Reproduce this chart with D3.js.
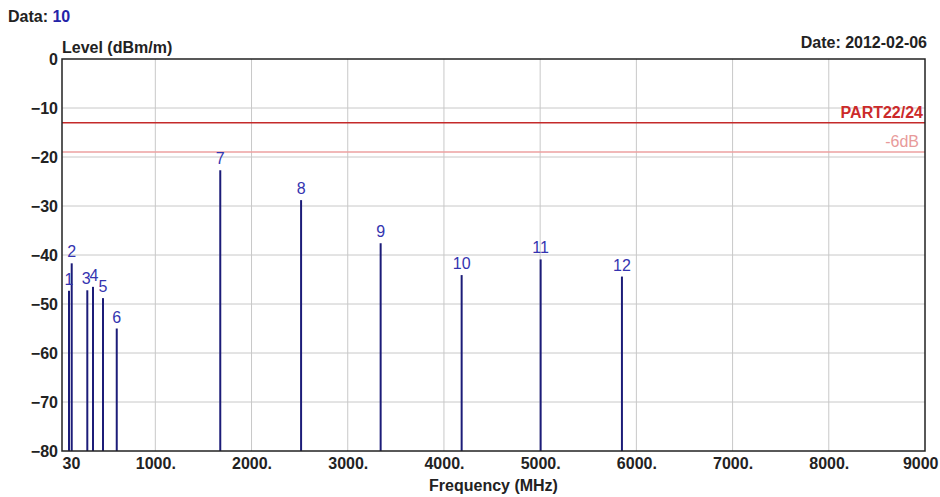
<!DOCTYPE html>
<html>
<head>
<meta charset="utf-8">
<script src="https://cdn.jsdelivr.net/npm/d3@7"></script>
<style>
  body { margin: 0; background: #fff; }
  svg { font-family: "Liberation Sans", Arial, sans-serif; }
  .grid line { stroke: #c8c8c8; stroke-width: 1; }
  .axis path, .axis line { display: none; }
  .axis text { font-size: 16px; font-weight: bold; fill: #222; }
</style>
</head>
<body>
<svg class="chart"></svg>
<script>
// measured peaks
var markers = ["1", "2", "3", "4", "5", "6", "7", "8", "9", "10", "11", "12"];
var freqs = [103, 131, 293, 352, 456, 599, 1675, 2515, 3342, 4184, 5005, 5850];
var levels = [-47.3, -41.7, -47.2, -46.5, -48.8, -55.0, -22.7, -28.8, -37.6, -44.1, -40.9, -44.4];

var limitNames = ["PART22/24", "-6dB"];
var limitLevels = [-13, -19];

var xTicks = [30, 1000, 2000, 3000, 4000, 5000, 6000, 7000, 8000, 9000];
var xTickLabels = ["30", "1000.", "2000.", "3000.", "4000.", "5000.", "6000.", "7000.", "8000.", "9000"];
var yTicks = [0, -10, -20, -30, -40, -50, -60, -70, -80];

var margin = {top: 59, right: 15, bottom: 46, left: 62},
    width = 940 - margin.left - margin.right,
    height = 497 - margin.top - margin.bottom;

var svg = d3.select(".chart")
    .attr("width", 940)
    .attr("height", 497);

var chart = svg.append("g")
    .attr("transform", "translate(" + margin.left + "," + margin.top + ")");

var x = d3.scaleLinear().domain([30, 9000]).range([0, width]);
var y = d3.scaleLinear().domain([-80, 0]).range([height, 0]);

// grid
chart.append("g").attr("class", "grid")
  .selectAll("line").data(xTicks.slice(1, -1))
  .enter().append("line")
    .attr("x1", function(d) { return x(d); })
    .attr("x2", function(d) { return x(d); })
    .attr("y1", 0).attr("y2", height);

chart.append("g").attr("class", "grid")
  .selectAll("line").data(yTicks.slice(1, -1))
  .enter().append("line")
    .attr("x1", 0).attr("x2", width)
    .attr("y1", function(d) { return y(d); })
    .attr("y2", function(d) { return y(d); });

// limit lines
var limitColors = ["#c42a2a", "#eca0a0"];
chart.selectAll(".limit").data(limitLevels)
  .enter().append("line")
    .attr("class", "limit")
    .attr("x1", 0).attr("x2", width)
    .attr("y1", function(d) { return y(d); })
    .attr("y2", function(d) { return y(d); })
    .attr("stroke", function(d, i) { return limitColors[i]; })
    .attr("stroke-width", 1.5);

chart.selectAll(".limitLabel").data(limitLevels)
  .enter().append("text")
    .attr("class", "limitLabel")
    .attr("x", function(d, i) { return i == 0 ? width - 2 : width - 6; })
    .attr("y", function(d) { return y(d) - 5; })
    .attr("text-anchor", "end")
    .style("font-size", "16px")
    .style("font-weight", function(d, i) { return i == 0 ? "bold" : "normal"; })
    .attr("fill", function(d, i) { return i == 0 ? "#cc2a2a" : "#e89a9a"; })
    .text(function(d, i) { return limitNames[i]; });

// peaks
chart.selectAll(".peak").data(freqs)
  .enter().append("line")
    .attr("class", "peak")
    .attr("x1", function(d) { return x(d); })
    .attr("x2", function(d) { return x(d); })
    .attr("y1", height)
    .attr("y2", function(d, i) { return y(levels[i]); })
    .attr("stroke", "#1c1c78")
    .attr("stroke-width", 2);

chart.selectAll(".peakLabel").data(freqs)
  .enter().append("text")
    .attr("class", "peakLabel")
    .attr("x", function(d, i) { return x(d) + (i == 2 ? -1 : i == 3 ? 1 : 0); })
    .attr("y", function(d, i) { return y(levels[i]) - 6; })
    .attr("text-anchor", "middle")
    .style("font-size", "16px")
    .attr("fill", "#3434b0")
    .text(function(d, i) { return markers[i]; });

// frame
chart.append("rect")
    .attr("width", width).attr("height", height)
    .attr("fill", "none")
    .attr("stroke", "#222")
    .attr("stroke-width", 1.5);

// axes
var xAxis = d3.axisBottom(x).tickValues(xTicks).tickSize(0).tickPadding(4)
    .tickFormat(function(d, i) { return xTickLabels[i]; });
var gx = chart.append("g").attr("class", "axis")
    .attr("transform", "translate(0," + height + ")")
    .call(xAxis);
gx.selectAll("text").attr("dy", "0.9em");
gx.selectAll("text").filter(function(d, i) { return i == 0; })
    .attr("text-anchor", "start");
gx.selectAll("text").filter(function(d, i) { return i == xTicks.length - 1; })
    .attr("text-anchor", "end").attr("dx", 13);

var yAxis = d3.axisLeft(y).tickValues(yTicks).tickSize(0).tickPadding(4);
var gy = chart.append("g").attr("class", "axis").call(yAxis);
gy.selectAll("text").attr("dy", "0.35em");

// titles
svg.append("text")
    .attr("x", 8).attr("y", 22)
    .style("font-size", "16px").style("font-weight", "bold").attr("fill", "#222")
    .text("Data: ")
  .append("tspan").attr("fill", "#2424a8").text("10");

svg.append("text")
    .attr("x", margin.left).attr("y", 53)
    .style("font-size", "16px").style("font-weight", "bold").attr("fill", "#222")
    .text("Level (dBm/m)");

svg.append("text")
    .attr("x", 927).attr("y", 48)
    .attr("text-anchor", "end")
    .style("font-size", "16px").style("font-weight", "bold").attr("fill", "#222")
    .text("Date: 2012-02-06");

svg.append("text")
    .attr("x", margin.left + width / 2).attr("y", 491)
    .attr("text-anchor", "middle")
    .style("font-size", "16px").style("font-weight", "bold").attr("fill", "#222")
    .text("Frequency (MHz)");
</script>
</body>
</html>
